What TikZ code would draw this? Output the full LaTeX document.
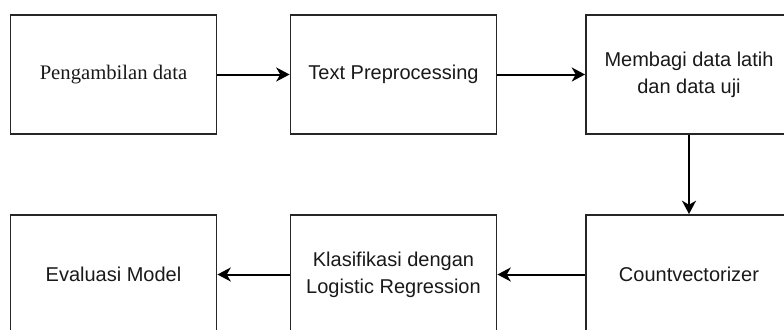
\documentclass[tikz,border=0pt]{standalone}
\usepackage{fontspec}
\setmainfont{Liberation Sans}
\newfontfamily\serifbox{Liberation Serif}
\usetikzlibrary{arrows.meta}
\begin{document}
\begin{tikzpicture}[x=0.75pt,y=-0.75pt,
  stepbox/.style={draw=black!85,line width=1.4pt,minimum width=154.5pt,minimum height=89.25pt,align=center,font=\fontsize{15}{20.25}\selectfont,inner sep=0pt,text=black!90},
  conn/.style={draw=black,line width=1.5pt,-{Stealth[length=10pt,width=10.5pt,inset=3pt]}}]
\path[use as bounding box,clip] (0,0) rectangle (784,329);
\node[stepbox,font=\fontsize{15.5}{20}\serifbox] (a) at (113.5,74.5) {Pengambilan data};
\node[stepbox] (b) at (393.5,74.5) {Text Preprocessing};
\node[stepbox] (c) at (689,74.5) {Membagi data latih\\dan data uji};
\node[stepbox] (f) at (689,274.5) {Countvectorizer};
\node[stepbox] (e) at (393.5,274.5) {Klasifikasi dengan\\Logistic Regression};
\node[stepbox] (d) at (113.5,274.5) {Evaluasi Model};
\draw[conn] (a) -- (b);
\draw[conn] (b) -- (c);
\draw[conn] (c) -- (f);
\draw[conn] (f) -- (e);
\draw[conn] (e) -- (d);
\end{tikzpicture}
\end{document}
